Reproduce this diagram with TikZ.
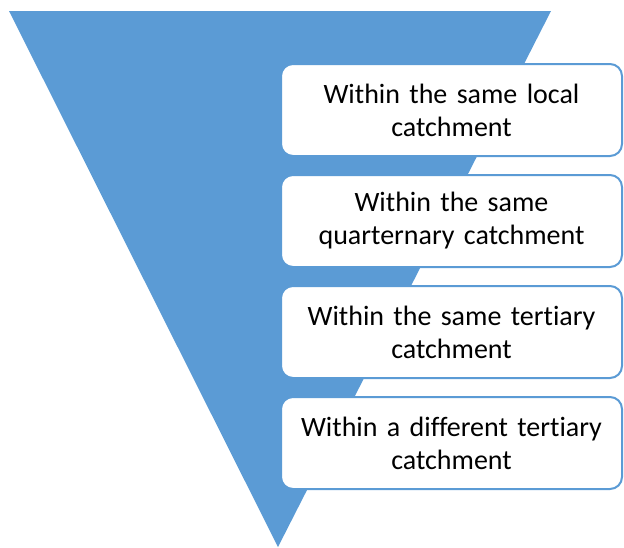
\documentclass[tikz,border=0pt]{standalone}
\usepackage{fontspec}
\setmainfont[Ligatures=NoCommon]{Carlito}
\usetikzlibrary{positioning}
\definecolor{funnelblue}{HTML}{5B9BD5}
\tikzset{
  levelbox/.style={draw=funnelblue, line width=2pt, fill=white, rounded corners=12pt,
    minimum width=341pt, minimum height=92pt, text width=330pt, align=center,
    font=\fontsize{28}{33}\selectfont, inner sep=0pt}
}
\begin{document}
\begin{tikzpicture}[x=1pt, y=-1pt]
    \useasboundingbox (0,0) rectangle (624,547);
    % funnel
    \fill[funnelblue] (9,11) -- (551,11) -- (278,547) -- cycle;

    % levels
    \node[levelbox] (local) at (451.5,110) {Within the same local\\catchment};
    \node[levelbox, below=17pt of local] (quat) {Within the same\\quarternary catchment};
    \node[levelbox, below=17pt of quat] (tert) {Within the same tertiary\\catchment};
    \node[levelbox, below=17pt of tert] (diff) {Within a different tertiary\\catchment};
\end{tikzpicture}
\end{document}
